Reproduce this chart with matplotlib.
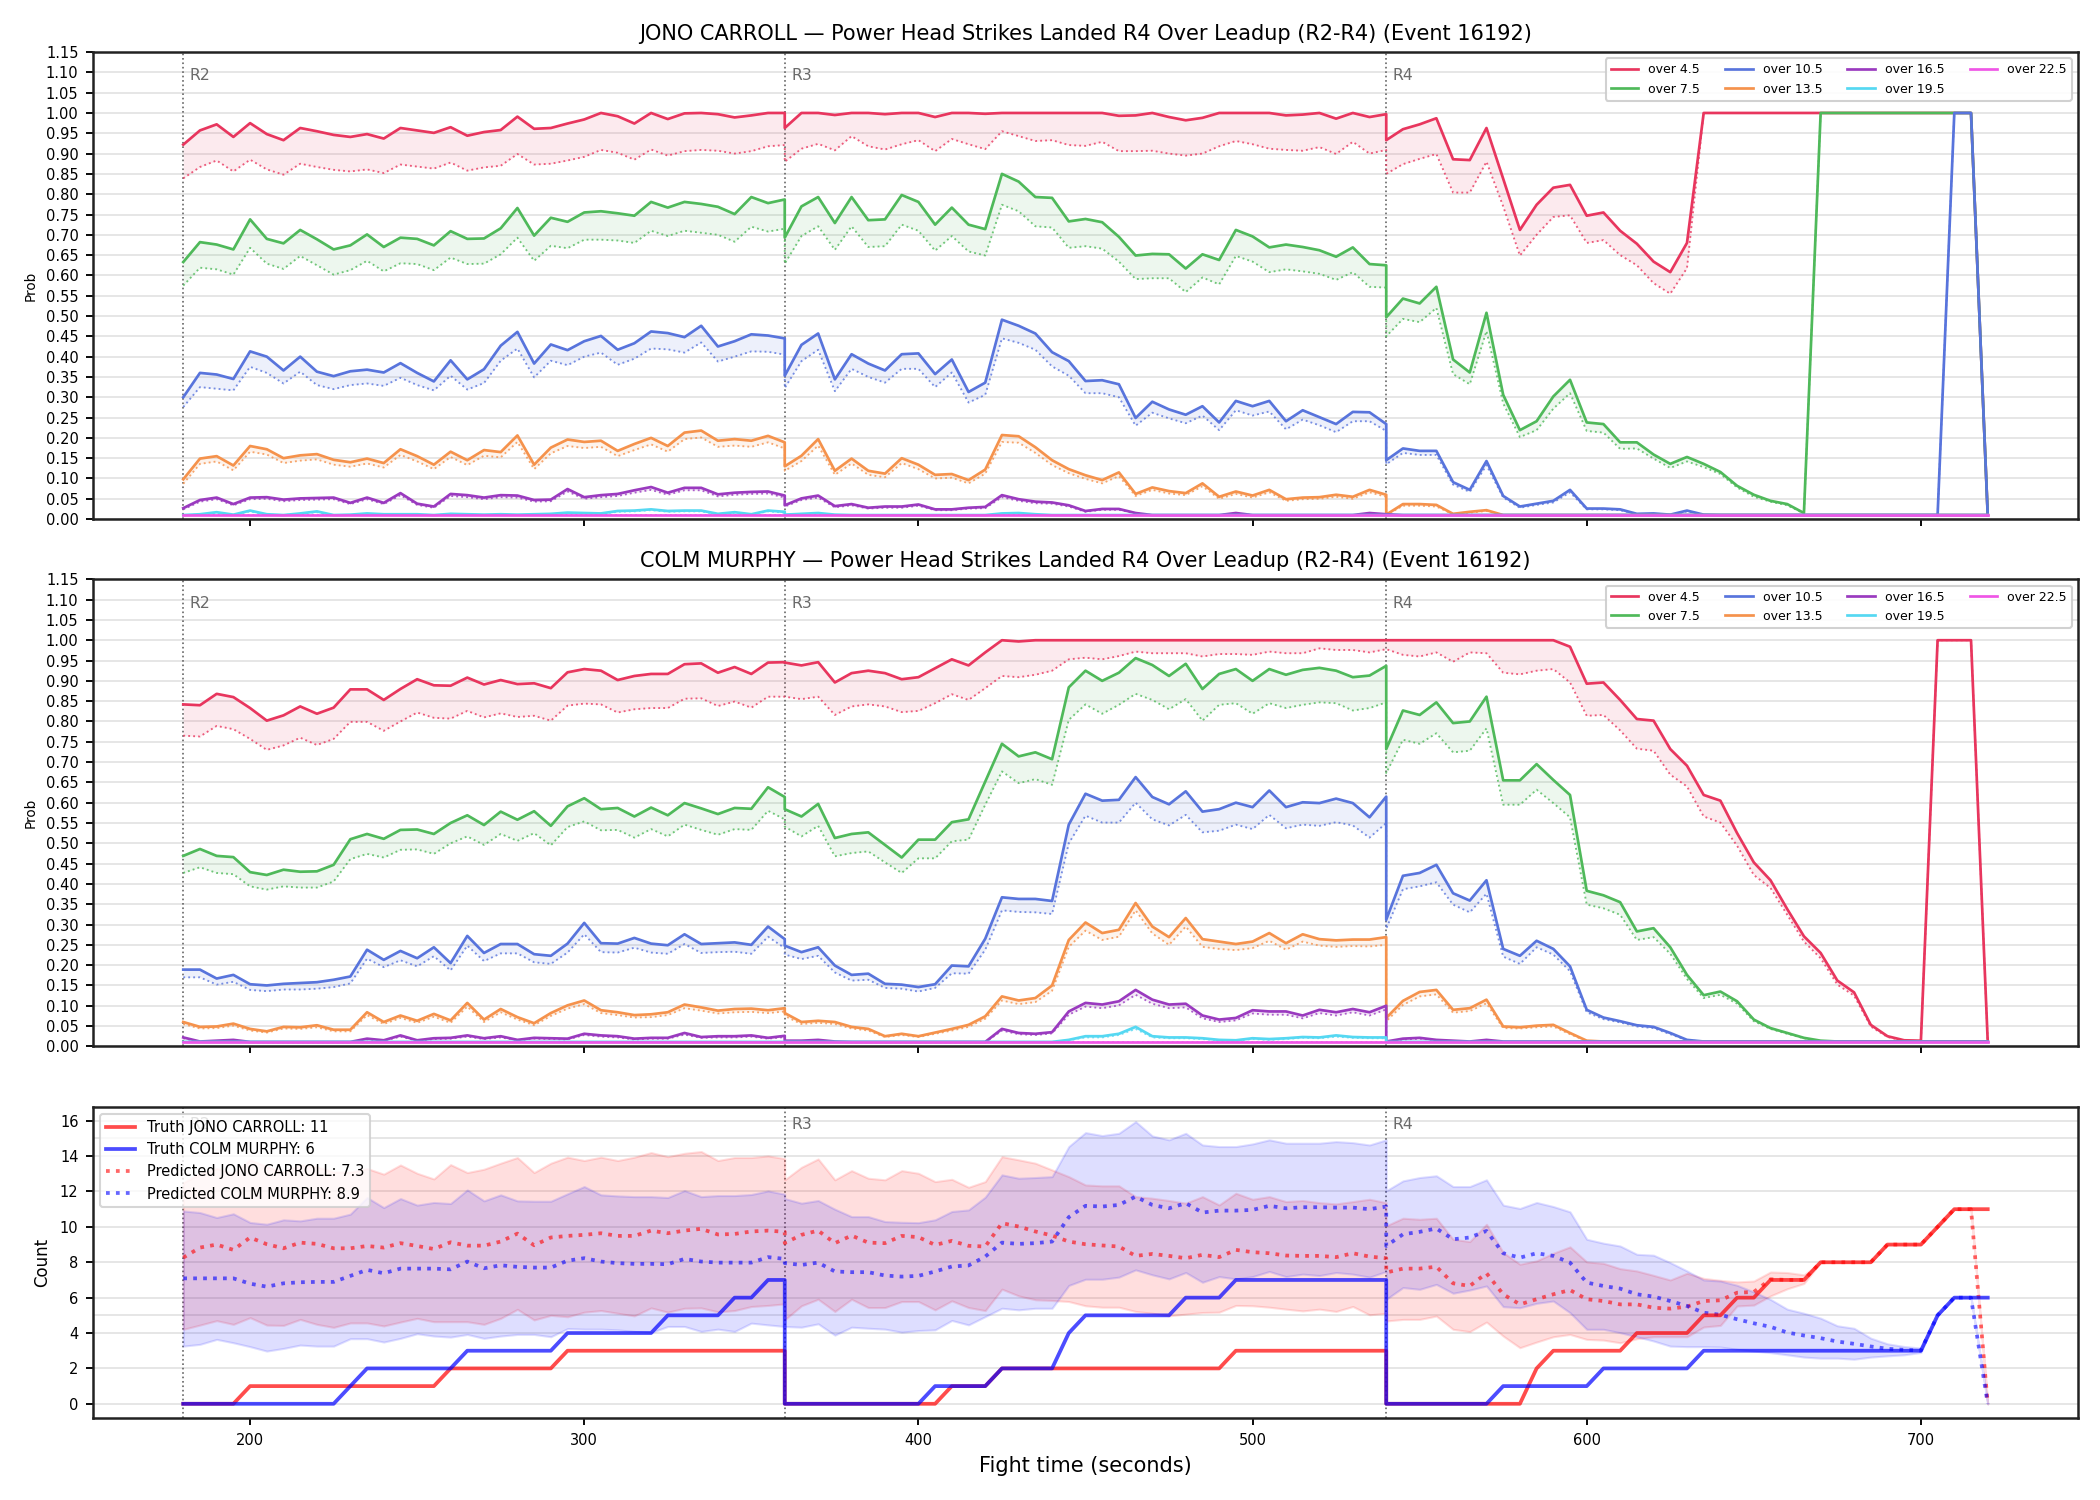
"""
plot.py

Leadup probability ladders for both fighters (R2-R4) plus the
predicted-vs-truth count panel for Power Head Strikes Landed R4.
"""

import matplotlib
matplotlib.use("Agg")
import matplotlib.pyplot as plt
import matplotlib.transforms as mtransforms
import numpy as np


# =============================================================================
# DATA
# =============================================================================

EVENT_ID = 16192
FIGHTER_A = "JONO CARROLL"
FIGHTER_B = "COLM MURPHY"
MARKET = "Power Head Strikes Landed R4 Over Leadup (R2-R4)"

# Sample times (s). Each round is sampled every 5 s, round boundaries repeat.
T = [*range(180, 361, 5), *range(360, 541, 5), *range(540, 721, 5)]

ROUND_STARTS = [180, 360, 540]
ROUND_NAMES = ["R2", "R3", "R4"]

THRESHOLDS = ["over 4.5", "over 7.5", "over 10.5", "over 13.5",
              "over 16.5", "over 19.5", "over 22.5"]

# ---- JONO CARROLL: market line (solid) ---------------------------------------
JC_45 = [
    0.922, 0.957, 0.972, 0.941, 0.975, 0.948, 0.933, 0.963, 0.955, 0.946,
    0.941, 0.948, 0.937, 0.963, 0.957, 0.951, 0.965, 0.944, 0.953, 0.958,
    0.991, 0.961, 0.963, 0.974, 0.984, 1.0, 0.992, 0.974, 1.0, 0.985,
    0.999, 1.0, 0.997, 0.989, 0.994, 1.0, 1.0,
    0.963, 1.0, 1.0, 0.995, 1.0, 1.0, 0.997, 1.0, 1.0, 0.99,
    1.0, 1.0, 0.998, 1.0, 1.0, 1.0, 1.0, 1.0, 1.0, 1.0,
    0.993, 0.994, 1.0, 0.99, 0.982, 0.988, 1.0, 1.0, 1.0, 1.0,
    0.994, 0.996, 1.0, 0.986, 1.0, 0.99, 0.997,
    0.933, 0.960, 0.972, 0.987, 0.886, 0.884, 0.963, 0.838, 0.712, 0.774,
    0.816, 0.823, 0.747, 0.755, 0.710, 0.678, 0.634, 0.608, 0.680,
    *[1.0] * 17, 0.01,
]
JC_75 = [
    0.633, 0.682, 0.676, 0.664, 0.738, 0.69, 0.679, 0.712, 0.689, 0.664,
    0.674, 0.701, 0.67, 0.693, 0.69, 0.674, 0.709, 0.69, 0.691, 0.716,
    0.766, 0.698, 0.742, 0.732, 0.755, 0.758, 0.753, 0.747, 0.781, 0.767,
    0.781, 0.776, 0.769, 0.751, 0.793, 0.778, 0.787,
    0.693, 0.77, 0.793, 0.729, 0.793, 0.736, 0.738, 0.798, 0.781, 0.725,
    0.767, 0.725, 0.714, 0.85, 0.831, 0.793, 0.791, 0.733, 0.739, 0.731,
    0.695, 0.649, 0.653, 0.652, 0.617, 0.652, 0.638, 0.712, 0.696, 0.669,
    0.676, 0.67, 0.662, 0.646, 0.669, 0.628, 0.625,
    0.497, 0.543, 0.531, 0.572, 0.393, 0.361, 0.508, 0.306, 0.219, 0.241,
    0.302, 0.343, 0.238, 0.234, 0.189, 0.189, 0.159, 0.136, 0.153, 0.136,
    0.116, 0.082, 0.06, 0.045, 0.037, 0.015,
    *[1.0] * 10, 0.01,
]
JC_105 = [
    0.30, 0.36, 0.356, 0.345, 0.413, 0.40, 0.366, 0.40, 0.363, 0.352,
    0.364, 0.368, 0.361, 0.384, 0.36, 0.339, 0.391, 0.344, 0.369, 0.427,
    0.461, 0.383, 0.43, 0.416, 0.438, 0.451, 0.417, 0.433, 0.462, 0.458,
    0.448, 0.476, 0.425, 0.438, 0.455, 0.452, 0.445,
    0.353, 0.429, 0.457, 0.344, 0.406, 0.383, 0.366, 0.406, 0.408, 0.357,
    0.393, 0.313, 0.336, 0.491, 0.476, 0.457, 0.411, 0.389, 0.34, 0.342,
    0.332, 0.249, 0.289, 0.27, 0.257, 0.278, 0.238, 0.291, 0.278, 0.291,
    0.241, 0.268, 0.251, 0.234, 0.264, 0.263, 0.234,
    0.145, 0.174, 0.168, 0.168, 0.091, 0.072, 0.143, 0.057, 0.031, 0.038,
    0.045, 0.072, 0.026, 0.026, 0.024, 0.013, 0.014, 0.011, 0.021, 0.011,
    *[0.01] * 14, 1.0, 1.0, 0.01,
]
JC_135 = [
    0.098, 0.149, 0.155, 0.132, 0.18, 0.172, 0.15, 0.157, 0.16, 0.146,
    0.14, 0.149, 0.138, 0.172, 0.155, 0.134, 0.166, 0.145, 0.17, 0.165,
    0.206, 0.134, 0.176, 0.196, 0.19, 0.193, 0.168, 0.185, 0.20, 0.18,
    0.213, 0.218, 0.193, 0.197, 0.193, 0.205, 0.189,
    0.13, 0.156, 0.197, 0.119, 0.149, 0.119, 0.112, 0.15, 0.134, 0.109,
    0.111, 0.096, 0.122, 0.207, 0.204, 0.177, 0.145, 0.123, 0.108, 0.096,
    0.115, 0.062, 0.078, 0.069, 0.064, 0.088, 0.055, 0.068, 0.058, 0.072,
    0.049, 0.053, 0.054, 0.06, 0.055, 0.072, 0.06,
    0.011, 0.037, 0.037, 0.035, 0.013, 0.018, 0.022, *[0.01] * 30,
]
JC_165 = [
    0.027, 0.047, 0.053, 0.037, 0.053, 0.054, 0.048, 0.051, 0.052, 0.053,
    0.04, 0.053, 0.04, 0.064, 0.038, 0.031, 0.062, 0.059, 0.053, 0.059,
    0.058, 0.047, 0.048, 0.074, 0.054, 0.059, 0.062, 0.071, 0.079, 0.065,
    0.077, 0.077, 0.061, 0.065, 0.067, 0.068, 0.058,
    0.034, 0.051, 0.058, 0.032, 0.037, 0.028, 0.031, 0.031, 0.036, 0.024,
    0.024, 0.028, 0.03, 0.059, 0.049, 0.043, 0.041, 0.034, 0.02, 0.025,
    0.025, 0.015, 0.01, 0.01, 0.01, 0.01, 0.01, 0.015, 0.01, 0.01,
    0.01, 0.01, 0.01, 0.01, 0.01, 0.015, 0.012,
    0.012, *[0.01] * 36,
]
JC_195 = [
    0.01, 0.012, 0.017, 0.011, 0.021, 0.012, 0.01, 0.014, 0.019, 0.01,
    0.011, 0.014, 0.012, 0.012, 0.012, 0.01, 0.013, 0.012, 0.011, 0.012,
    0.011, 0.012, 0.013, 0.016, 0.015, 0.014, 0.02, 0.021, 0.024, 0.02,
    0.021, 0.021, 0.013, 0.017, 0.012, 0.021, 0.018,
    0.011, 0.013, 0.015, 0.011, *[0.01] * 9, 0.014, 0.015, 0.012, *[0.01] * 21,
    *[0.01] * 37,
]
JC_225 = [0.01] * 111

# ---- JONO CARROLL: model line (dotted) ---------------------------------------
JC_45_M = [
    0.839, 0.867, 0.883, 0.856, 0.885, 0.861, 0.848, 0.875, 0.867, 0.860,
    0.856, 0.861, 0.852, 0.873, 0.868, 0.863, 0.878, 0.858, 0.866, 0.870,
    0.899, 0.873, 0.875, 0.883, 0.892, 0.909, 0.902, 0.885, 0.910, 0.895,
    0.906, 0.909, 0.907, 0.900, 0.906, 0.918, 0.921,
    0.88, 0.912, 0.924, 0.908, 0.943, 0.918, 0.91, 0.923, 0.933, 0.906,
    0.936, 0.923, 0.911, 0.955, 0.943, 0.931, 0.933, 0.921, 0.919, 0.929,
    0.906, 0.906, 0.907, 0.90, 0.895, 0.90, 0.918, 0.931, 0.923, 0.912,
    0.909, 0.907, 0.916, 0.899, 0.929, 0.90, 0.909,
    0.85, 0.874, 0.887, 0.899, 0.804, 0.804, 0.88, 0.77, 0.649, 0.70,
    0.744, 0.748, 0.68, 0.687, 0.65, 0.625, 0.581, 0.555, 0.618,
    *[1.0] * 17, 0.01,
]
JC_75_M = [
    0.575, 0.619, 0.615, 0.602, 0.668, 0.629, 0.616, 0.648, 0.625, 0.602,
    0.613, 0.636, 0.61, 0.63, 0.628, 0.613, 0.644, 0.628, 0.629, 0.652,
    0.693, 0.636, 0.673, 0.667, 0.688, 0.688, 0.686, 0.68, 0.71, 0.697,
    0.71, 0.705, 0.70, 0.683, 0.72, 0.708, 0.715,
    0.629, 0.697, 0.721, 0.663, 0.721, 0.67, 0.672, 0.725, 0.71, 0.661,
    0.697, 0.659, 0.649, 0.774, 0.758, 0.721, 0.718, 0.668, 0.672, 0.666,
    0.634, 0.591, 0.593, 0.593, 0.559, 0.595, 0.578, 0.648, 0.634, 0.608,
    0.615, 0.61, 0.604, 0.589, 0.608, 0.572, 0.57,
    0.45, 0.493, 0.485, 0.52, 0.357, 0.332, 0.463, 0.285, 0.202, 0.219,
    0.272, 0.31, 0.217, 0.213, 0.173, 0.174, 0.149, 0.126, 0.142, 0.128,
    0.111, 0.078, 0.055, 0.043, 0.034, 0.014,
    *[1.0] * 10, 0.01,
]
JC_105_M = [
    0.276, 0.325, 0.321, 0.317, 0.375, 0.36, 0.334, 0.363, 0.33, 0.32,
    0.33, 0.334, 0.328, 0.348, 0.33, 0.317, 0.353, 0.319, 0.335, 0.39,
    0.42, 0.349, 0.39, 0.379, 0.40, 0.41, 0.38, 0.395, 0.42, 0.418,
    0.41, 0.435, 0.388, 0.40, 0.413, 0.412, 0.405,
    0.323, 0.389, 0.417, 0.315, 0.37, 0.35, 0.336, 0.37, 0.37, 0.325,
    0.361, 0.287, 0.306, 0.445, 0.434, 0.417, 0.376, 0.353, 0.31, 0.31,
    0.30, 0.23, 0.262, 0.248, 0.236, 0.255, 0.219, 0.268, 0.255, 0.265,
    0.221, 0.245, 0.231, 0.214, 0.241, 0.241, 0.217,
    0.135, 0.163, 0.158, 0.158, 0.085, 0.067, 0.133, 0.053, 0.028, 0.035,
    0.041, 0.066, 0.024, 0.024, 0.022, 0.012, 0.013, 0.01, 0.019, 0.01,
    *[0.01] * 14, 1.0, 1.0, 0.01,
]
JC_135_M = [
    0.087, 0.136, 0.142, 0.12, 0.166, 0.159, 0.138, 0.144, 0.147, 0.134,
    0.129, 0.137, 0.127, 0.158, 0.142, 0.123, 0.153, 0.133, 0.156, 0.152,
    0.19, 0.123, 0.162, 0.18, 0.175, 0.178, 0.155, 0.17, 0.184, 0.166,
    0.197, 0.201, 0.178, 0.181, 0.178, 0.189, 0.174,
    0.119, 0.143, 0.181, 0.109, 0.137, 0.109, 0.103, 0.138, 0.123, 0.1,
    0.102, 0.088, 0.112, 0.19, 0.188, 0.163, 0.133, 0.113, 0.099, 0.088,
    0.106, 0.057, 0.072, 0.063, 0.059, 0.081, 0.05, 0.062, 0.053, 0.066,
    0.045, 0.049, 0.05, 0.055, 0.05, 0.066, 0.055,
    0.01, 0.033, 0.033, 0.031, 0.012, 0.016, 0.02, *[0.01] * 30,
]
JC_165_M = [
    0.024, 0.043, 0.049, 0.034, 0.049, 0.05, 0.044, 0.047, 0.048, 0.049,
    0.037, 0.049, 0.037, 0.059, 0.035, 0.028, 0.057, 0.054, 0.049, 0.054,
    0.053, 0.043, 0.044, 0.068, 0.05, 0.054, 0.057, 0.065, 0.072, 0.06,
    0.071, 0.071, 0.056, 0.06, 0.062, 0.063, 0.053,
    0.031, 0.047, 0.053, 0.029, 0.034, 0.026, 0.028, 0.028, 0.033, 0.022,
    0.022, 0.026, 0.027, 0.054, 0.045, 0.039, 0.038, 0.031, 0.018, 0.023,
    0.023, 0.014, 0.01, 0.01, 0.01, 0.01, 0.01, 0.014, 0.01, 0.01,
    0.01, 0.01, 0.01, 0.01, 0.01, 0.014, 0.011,
    0.011, *[0.01] * 36,
]
JC_195_M = [
    0.01, 0.011, 0.015, 0.01, 0.019, 0.011, 0.01, 0.013, 0.017, 0.01,
    0.01, 0.013, 0.011, 0.011, 0.011, 0.01, 0.012, 0.011, 0.01, 0.011,
    0.01, 0.011, 0.012, 0.015, 0.014, 0.013, 0.018, 0.019, 0.022, 0.018,
    0.019, 0.019, 0.012, 0.015, 0.011, 0.019, 0.016,
    *[0.01] * 37,
    *[0.01] * 37,
]
JC_225_M = [0.01] * 111

# ---- COLM MURPHY: market line (solid) ----------------------------------------
CM_45 = [
    0.842, 0.84, 0.868, 0.86, 0.833, 0.802, 0.815, 0.837, 0.819, 0.834,
    0.879, 0.879, 0.853, 0.88, 0.904, 0.889, 0.888, 0.908, 0.891, 0.902,
    0.892, 0.894, 0.882, 0.921, 0.929, 0.925, 0.902, 0.912, 0.917, 0.917,
    0.941, 0.943, 0.92, 0.934, 0.917, 0.945, 0.946,
    0.945, 0.938, 0.946, 0.896, 0.919, 0.925, 0.919, 0.904, 0.909, 0.931,
    0.953, 0.938, 0.97, 1.0, 0.997, *[1.0] * 22,
    *[1.0] * 11, 0.984, 0.893, 0.896, 0.853, 0.806, 0.802, 0.732, 0.691,
    0.619, 0.605, 0.525, 0.453, 0.409, 0.338, 0.271, 0.23, 0.162, 0.133,
    0.053, 0.025, 0.015, 0.014, 1.0, 1.0, 1.0, 0.012,
]
CM_75 = [
    0.469, 0.486, 0.469, 0.466, 0.429, 0.422, 0.435, 0.43, 0.431, 0.447,
    0.51, 0.523, 0.511, 0.533, 0.534, 0.523, 0.55, 0.569, 0.545, 0.578,
    0.558, 0.579, 0.543, 0.591, 0.611, 0.584, 0.587, 0.566, 0.588, 0.569,
    0.599, 0.586, 0.572, 0.587, 0.585, 0.638, 0.614,
    0.584, 0.566, 0.597, 0.513, 0.523, 0.527, 0.496, 0.465, 0.509, 0.509,
    0.552, 0.559, 0.652, 0.745, 0.714, 0.724, 0.707, 0.884, 0.925, 0.90,
    0.92, 0.956, 0.939, 0.912, 0.942, 0.88, 0.917, 0.929, 0.90, 0.929,
    0.915, 0.927, 0.932, 0.925, 0.909, 0.913, 0.937,
    0.732, 0.827, 0.816, 0.847, 0.796, 0.80, 0.861, 0.655, 0.655, 0.695,
    0.656, 0.619, 0.383, 0.372, 0.355, 0.283, 0.291, 0.244, 0.176, 0.126,
    0.135, 0.111, 0.066, 0.045, 0.033, 0.021, 0.014, *[0.012] * 10,
]
CM_105 = [
    0.189, 0.189, 0.167, 0.176, 0.153, 0.15, 0.154, 0.156, 0.158, 0.164,
    0.172, 0.238, 0.213, 0.235, 0.217, 0.244, 0.205, 0.272, 0.23, 0.252,
    0.252, 0.227, 0.223, 0.253, 0.304, 0.254, 0.253, 0.267, 0.253, 0.249,
    0.276, 0.252, 0.254, 0.256, 0.25, 0.295, 0.264,
    0.248, 0.232, 0.244, 0.199, 0.176, 0.179, 0.154, 0.152, 0.146, 0.153,
    0.199, 0.197, 0.265, 0.367, 0.363, 0.363, 0.358, 0.546, 0.622, 0.605,
    0.607, 0.663, 0.614, 0.596, 0.628, 0.578, 0.584, 0.60, 0.589, 0.63,
    0.589, 0.601, 0.599, 0.61, 0.599, 0.564, 0.615,
    0.312, 0.42, 0.427, 0.447, 0.377, 0.359, 0.409, 0.24, 0.223, 0.26,
    0.24, 0.197, 0.09, 0.071, 0.062, 0.052, 0.048, 0.033, 0.016,
    *[0.012] * 18,
]
CM_135 = [
    0.06, 0.048, 0.049, 0.056, 0.043, 0.037, 0.048, 0.047, 0.052, 0.041,
    0.041, 0.084, 0.06, 0.076, 0.063, 0.08, 0.064, 0.107, 0.066, 0.092,
    0.072, 0.057, 0.082, 0.101, 0.113, 0.089, 0.084, 0.077, 0.079, 0.084,
    0.103, 0.096, 0.088, 0.092, 0.093, 0.089, 0.094,
    0.082, 0.06, 0.063, 0.06, 0.048, 0.043, 0.025, 0.031, 0.025, 0.034,
    0.043, 0.053, 0.074, 0.123, 0.113, 0.119, 0.15, 0.262, 0.305, 0.279,
    0.287, 0.353, 0.295, 0.269, 0.316, 0.264, 0.258, 0.252, 0.258, 0.279,
    0.254, 0.276, 0.264, 0.261, 0.263, 0.263, 0.269,
    0.07, 0.112, 0.134, 0.139, 0.09, 0.094, 0.115, 0.049, 0.047, 0.051,
    0.053, 0.033, 0.014, *[0.012] * 24,
]
CM_165 = [
    0.022, 0.012, 0.014, 0.016, 0.011, 0.011, 0.011, 0.011, 0.011, 0.011,
    0.011, 0.019, 0.015, 0.027, 0.015, 0.02, 0.021, 0.027, 0.02, 0.025,
    0.016, 0.021, 0.02, 0.019, 0.031, 0.027, 0.025, 0.019, 0.021, 0.021,
    0.033, 0.023, 0.025, 0.025, 0.027, 0.021, 0.026,
    0.014, 0.014, 0.016, 0.012, 0.011, 0.011, 0.011, 0.011, 0.011, 0.011,
    0.011, 0.011, 0.011, 0.043, 0.033, 0.031, 0.035, 0.086, 0.107, 0.103,
    0.111, 0.139, 0.115, 0.103, 0.105, 0.076, 0.066, 0.07, 0.089, 0.086,
    0.086, 0.076, 0.09, 0.084, 0.092, 0.084, 0.10,
    0.012, 0.019, 0.021, 0.016, 0.014, 0.012, 0.016, *[0.012] * 30,
]
CM_195 = [
    *[0.011] * 37,
    *[0.011] * 17, 0.016, 0.025, 0.025, 0.031, 0.048, 0.025, 0.022, 0.022,
    0.02, 0.016, 0.015, 0.02, 0.018, 0.02, 0.023, 0.022, 0.027, 0.023,
    0.022, 0.022,
    *[0.011] * 37,
]
CM_225 = [0.011] * 111

# ---- COLM MURPHY: model line (dotted) ----------------------------------------
CM_45_M = [
    0.765, 0.763, 0.789, 0.781, 0.757, 0.73, 0.741, 0.76, 0.742, 0.757,
    0.799, 0.799, 0.777, 0.80, 0.822, 0.809, 0.807, 0.826, 0.81, 0.82,
    0.811, 0.814, 0.802, 0.839, 0.844, 0.842, 0.822, 0.83, 0.833, 0.833,
    0.856, 0.857, 0.838, 0.849, 0.834, 0.861, 0.861,
    0.861, 0.855, 0.861, 0.816, 0.837, 0.842, 0.837, 0.823, 0.826, 0.845,
    0.867, 0.853, 0.882, 0.912, 0.909, 0.915, 0.925, 0.953, 0.957, 0.953,
    0.961, 0.972, 0.968, 0.968, 0.968, 0.96, 0.966, 0.966, 0.964, 0.972,
    0.968, 0.968, 0.98, 0.976, 0.976, 0.97, 0.978,
    0.978, 0.964, 0.96, 0.97, 0.947, 0.97, 0.968, 0.92, 0.916, 0.925,
    0.929, 0.896, 0.814, 0.816, 0.778, 0.733, 0.728, 0.669, 0.64, 0.566,
    0.551, 0.494, 0.422, 0.39, 0.324, 0.258, 0.217, 0.152, 0.125, 0.049,
    0.023, 0.014, 0.013, 1.0, 1.0, 1.0, 0.012,
]
CM_75_M = [
    0.427, 0.441, 0.427, 0.424, 0.394, 0.386, 0.394, 0.391, 0.391, 0.406,
    0.461, 0.474, 0.465, 0.484, 0.485, 0.474, 0.50, 0.517, 0.496, 0.523,
    0.506, 0.525, 0.495, 0.54, 0.554, 0.532, 0.533, 0.514, 0.535, 0.517,
    0.546, 0.533, 0.521, 0.535, 0.533, 0.58, 0.559,
    0.541, 0.517, 0.543, 0.468, 0.476, 0.48, 0.453, 0.427, 0.463, 0.463,
    0.505, 0.509, 0.595, 0.677, 0.648, 0.658, 0.644, 0.804, 0.842, 0.819,
    0.841, 0.868, 0.853, 0.83, 0.855, 0.802, 0.841, 0.845, 0.819, 0.845,
    0.833, 0.841, 0.847, 0.845, 0.827, 0.833, 0.847,
    0.673, 0.755, 0.745, 0.771, 0.724, 0.728, 0.783, 0.595, 0.595, 0.632,
    0.599, 0.564, 0.349, 0.34, 0.324, 0.262, 0.269, 0.228, 0.166, 0.119,
    0.127, 0.105, 0.062, 0.043, 0.031, 0.02, 0.013, *[0.012] * 10,
]
CM_105_M = [
    0.17, 0.17, 0.152, 0.159, 0.139, 0.136, 0.14, 0.14, 0.142, 0.146,
    0.155, 0.216, 0.195, 0.212, 0.197, 0.222, 0.187, 0.248, 0.21, 0.229,
    0.229, 0.207, 0.203, 0.231, 0.276, 0.232, 0.231, 0.243, 0.231, 0.228,
    0.252, 0.23, 0.232, 0.233, 0.228, 0.27, 0.242,
    0.226, 0.215, 0.223, 0.182, 0.162, 0.164, 0.144, 0.142, 0.135, 0.144,
    0.18, 0.179, 0.238, 0.335, 0.331, 0.33, 0.326, 0.50, 0.568, 0.551,
    0.551, 0.60, 0.559, 0.544, 0.57, 0.527, 0.531, 0.546, 0.535, 0.57,
    0.537, 0.546, 0.543, 0.552, 0.544, 0.514, 0.55,
    0.29, 0.387, 0.394, 0.404, 0.349, 0.33, 0.376, 0.221, 0.203, 0.244,
    0.226, 0.185, 0.084, 0.067, 0.059, 0.049, 0.045, 0.03, 0.015,
    *[0.012] * 18,
]
CM_135_M = [
    0.055, 0.044, 0.045, 0.051, 0.039, 0.034, 0.044, 0.043, 0.047, 0.037,
    0.037, 0.077, 0.055, 0.07, 0.058, 0.073, 0.058, 0.098, 0.06, 0.084,
    0.066, 0.052, 0.075, 0.093, 0.104, 0.082, 0.077, 0.071, 0.072, 0.077,
    0.094, 0.088, 0.081, 0.084, 0.085, 0.082, 0.086,
    0.075, 0.055, 0.058, 0.055, 0.044, 0.039, 0.023, 0.028, 0.023, 0.031,
    0.039, 0.048, 0.068, 0.113, 0.104, 0.109, 0.137, 0.245, 0.285, 0.262,
    0.27, 0.335, 0.278, 0.25, 0.295, 0.245, 0.24, 0.237, 0.242, 0.26,
    0.238, 0.258, 0.248, 0.245, 0.247, 0.246, 0.25,
    0.062, 0.102, 0.123, 0.128, 0.083, 0.087, 0.106, 0.045, 0.044, 0.047,
    0.049, 0.03, 0.013, *[0.012] * 24,
]
CM_165_M = [
    0.02, 0.011, 0.013, 0.014, 0.01, 0.01, 0.01, 0.01, 0.01, 0.01,
    0.01, 0.017, 0.014, 0.024, 0.014, 0.018, 0.019, 0.024, 0.018, 0.022,
    0.015, 0.019, 0.018, 0.017, 0.028, 0.024, 0.022, 0.017, 0.019, 0.019,
    0.029, 0.021, 0.022, 0.022, 0.024, 0.019, 0.023,
    0.013, 0.013, 0.014, 0.011, *[0.01] * 9, 0.039, 0.03, 0.028, 0.032,
    0.078, 0.098, 0.094, 0.101, 0.127, 0.105, 0.094, 0.096, 0.069, 0.06,
    0.064, 0.081, 0.078, 0.078, 0.069, 0.082, 0.076, 0.084, 0.076, 0.091,
    0.011, 0.017, 0.019, 0.015, 0.013, 0.011, 0.015, *[0.011] * 30,
]
CM_195_M = [
    *[0.011] * 37,
    *[0.011] * 17, 0.015, 0.022, 0.022, 0.028, 0.043, 0.022, 0.02, 0.02,
    0.018, 0.015, 0.014, 0.018, 0.016, 0.018, 0.021, 0.02, 0.024, 0.021,
    0.02, 0.02,
    *[0.011] * 37,
]
CM_225_M = [0.011] * 111

# ---- Count panel -------------------------------------------------------------
JC_TRUTH = [
    *[0] * 4, *[1] * 12, *[2] * 7, *[3] * 14,
    *[0] * 10, *[1] * 3, *[2] * 14, *[3] * 10,
    *[0] * 9, 2, *[3] * 5, *[4] * 4, 5, 5, 6, 6, *[7] * 3, *[8] * 4,
    *[9] * 3, 10, *[11] * 3,
]
CM_TRUTH = [
    *[0] * 10, 1, *[2] * 6, *[3] * 6, *[4] * 6, *[5] * 4, 6, 6, 7, 7,
    *[0] * 9, *[1] * 4, *[2] * 4, 4, *[5] * 6, *[6] * 3, *[7] * 10,
    *[0] * 7, *[1] * 6, *[2] * 6, *[3] * 14, 5, 6, 6, 6,
]
JC_PRED = [
    8.26, 8.83, 9.0, 8.7, 9.4, 9.02, 8.79, 9.11, 9.04, 8.79,
    8.79, 8.92, 8.83, 9.08, 8.92, 8.75, 9.13, 8.94, 8.94, 9.17,
    9.62, 8.96, 9.4, 9.49, 9.55, 9.64, 9.49, 9.49, 9.79, 9.64,
    9.79, 9.89, 9.57, 9.6, 9.74, 9.79, 9.72,
    9.08, 9.55, 9.79, 9.08, 9.51, 9.11, 9.08, 9.49, 9.42, 8.98,
    9.21, 8.93, 8.89, 10.21, 10.02, 9.74, 9.51, 9.17, 9.02, 8.95,
    8.89, 8.36, 8.47, 8.36, 8.23, 8.42, 8.29, 8.7, 8.57, 8.51,
    8.38, 8.36, 8.36, 8.29, 8.51, 8.32, 8.23,
    7.42, 7.64, 7.64, 7.75, 6.81, 6.66, 7.38, 6.19, 5.62, 5.91,
    6.19, 6.43, 5.91, 5.81, 5.62, 5.62, 5.43, 5.38, 5.49, 5.81,
    5.85, 6.28, 6.32, 7.04, 7.0, 7.0, 8.0, 8.0, 8.0, 8.0,
    9.0, 9.0, 9.0, 10.0, 11.0, 11.0, 0.0,
]
CM_PRED = [
    7.09, 7.09, 7.09, 7.09, 6.79, 6.62, 6.81, 6.87, 6.89, 6.89,
    7.23, 7.57, 7.38, 7.64, 7.64, 7.64, 7.6, 8.04, 7.66, 7.83,
    7.74, 7.7, 7.7, 8.09, 8.23, 8.04, 7.95, 7.91, 7.91, 7.89,
    8.19, 8.04, 7.98, 7.98, 7.98, 8.29, 8.19,
    7.95, 7.85, 7.98, 7.48, 7.44, 7.44, 7.25, 7.19, 7.23, 7.48,
    7.76, 7.82, 8.32, 9.11, 9.04, 9.08, 9.17, 10.55, 11.19, 11.15,
    11.24, 11.71, 11.24, 11.05, 11.34, 10.81, 10.92, 10.92, 10.96, 11.19,
    11.05, 11.11, 11.11, 11.09, 11.09, 11.0, 11.15,
    8.92, 9.58, 9.72, 9.91, 9.3, 9.4, 9.77, 8.51, 8.26, 8.51,
    8.36, 7.98, 6.85, 6.66, 6.51, 6.19, 6.06, 5.81, 5.53, 5.15,
    5.03, 4.78, 4.55, 4.35, 4.03, 3.86, 3.71, 3.52, 3.39, 3.24,
    3.11, 3.05, 3.01, 5.0, 6.0, 6.0, 0.0,
]
JC_HI = [
    12.5, 13.0, 13.3, 13.0, 13.8, 13.4, 13.1, 13.5, 13.4, 13.1,
    13.1, 13.3, 12.98, 13.5, 13.03, 12.71, 13.52, 13.07, 13.26, 13.6,
    13.92, 13.07, 13.6, 13.94, 13.75, 13.94, 13.75, 13.94, 14.2, 13.97,
    14.16, 14.26, 13.75, 13.92, 13.92, 14.01, 13.86,
    12.66, 13.37, 13.84, 12.66, 13.18, 12.75, 12.66, 13.18, 13.03, 12.56,
    12.69, 12.24, 12.56, 13.97, 13.79, 13.6, 13.22, 12.84, 12.37, 12.32,
    12.32, 11.71, 11.62, 11.49, 11.34, 11.71, 11.24, 11.9, 11.56, 11.71,
    11.43, 11.49, 11.37, 11.3, 11.43, 11.56, 11.37,
    10.06, 10.49, 10.43, 10.49, 9.3, 9.17, 10.15, 8.55, 7.89, 8.08,
    8.51, 8.87, 8.02, 7.94, 7.64, 7.51, 7.26, 7.0, 7.38, 7.09,
    6.98, 6.89, 6.94, 7.45, 7.42, 7.29, 8.0, 8.0, 8.0, 8.0,
    9.0, 9.0, 9.0, 10.0, 11.0, 11.0, 0.0,
]
JC_LO = [
    4.21, 4.45, 4.7, 4.49, 4.87, 4.45, 4.43, 4.77, 4.49, 4.32,
    4.57, 4.57, 4.4, 4.62, 4.83, 4.64, 4.64, 4.64, 4.49, 4.83,
    5.34, 4.74, 5.0, 4.92, 5.18, 5.27, 5.12, 4.97, 5.42, 5.18,
    5.4, 5.42, 5.2, 5.27, 5.5, 5.56, 5.65,
    4.75, 5.54, 5.91, 5.22, 5.91, 5.44, 5.44, 5.78, 5.78, 5.31,
    5.82, 5.44, 5.27, 6.48, 6.1, 5.88, 5.84, 5.78, 5.54, 5.46,
    5.46, 5.22, 5.12, 4.97, 5.07, 5.16, 5.18, 5.56, 5.54, 5.46,
    5.35, 5.25, 5.35, 5.22, 5.5, 5.03, 5.12,
    4.68, 4.77, 4.77, 4.96, 4.21, 4.08, 4.62, 3.83, 3.17, 3.49,
    3.79, 3.92, 3.64, 3.6, 3.45, 3.68, 3.79, 3.79, 3.79, 4.34,
    4.43, 5.53, 5.58, 6.1, 6.5, 6.8, 8.0, 8.0, 8.0, 8.0,
    9.0, 9.0, 9.0, 10.0, 11.0, 11.0, 0.0,
]
CM_HI = [
    10.9, 10.81, 10.53, 10.74, 10.25, 10.15, 10.4, 10.34, 10.49, 10.49,
    10.72, 11.66, 11.09, 11.6, 11.23, 11.38, 11.32, 12.09, 11.47, 11.81,
    11.47, 11.45, 11.45, 11.87, 12.28, 11.81, 11.75, 11.71, 11.71, 11.66,
    12.05, 11.71, 11.77, 11.77, 11.83, 12.03, 11.85,
    11.6, 11.34, 11.49, 11.0, 10.58, 10.58, 10.3, 10.26, 10.24, 10.4,
    10.87, 10.96, 11.68, 12.94, 12.75, 12.79, 12.84, 14.54, 15.33, 15.16,
    15.29, 15.95, 15.14, 14.92, 15.29, 14.63, 14.54, 14.54, 14.69, 14.92,
    14.73, 14.73, 14.73, 14.82, 14.76, 14.63, 14.92,
    12.04, 12.6, 12.79, 12.89, 12.28, 12.28, 12.66, 11.23, 11.04, 11.38,
    11.15, 10.85, 9.3, 9.08, 8.92, 8.45, 8.4, 7.98, 7.51, 7.0,
    6.94, 6.7, 6.32, 5.9, 5.35, 5.12, 4.84, 4.41, 4.27, 3.71,
    3.39, 3.24, 3.15, 5.0, 6.0, 6.0, 0.0,
]
CM_LO = [
    3.26, 3.36, 3.64, 3.45, 3.23, 2.98, 3.13, 3.32, 3.26, 3.26,
    3.68, 3.68, 3.49, 3.7, 3.96, 3.83, 3.77, 3.92, 3.7, 3.83,
    3.92, 3.92, 3.79, 4.25, 4.22, 4.22, 4.18, 4.09, 4.03, 4.37,
    4.37, 4.09, 4.22, 4.09, 4.56, 4.46, 4.37,
    4.37, 4.33, 4.52, 3.88, 4.33, 4.27, 4.22, 4.05, 4.14, 4.18,
    4.71, 4.46, 4.93, 5.4, 5.31, 5.4, 5.4, 6.69, 7.04, 7.04,
    7.16, 7.57, 7.29, 7.06, 7.42, 6.87, 7.19, 7.06, 7.19, 7.48,
    7.19, 7.33, 7.25, 7.42, 7.33, 7.16, 7.48,
    5.91, 6.57, 6.47, 6.75, 6.25, 6.43, 6.66, 5.49, 5.43, 5.68,
    5.81, 5.15, 4.21, 4.21, 4.02, 3.79, 3.55, 3.26, 3.23, 3.23,
    3.21, 3.08, 2.98, 2.89, 2.77, 2.64, 2.58, 2.58, 2.52, 2.64,
    2.71, 2.77, 2.9, 5.0, 6.0, 6.0, 0.0,
]

# Pre-fight predicted totals shown in the legend.
JC_PRED_TOTAL = 7.3
CM_PRED_TOTAL = 8.9


# =============================================================================
# STYLE
# =============================================================================

LINE_COLORS = ["#e8365e", "#4fb95a", "#5874dc", "#f5924c",
               "#9a3abf", "#55d8f2", "#ef55e6"]
ROUND_LINE_COLOR = "#555555"
ROUND_TEXT_COLOR = "#6a6a6a"
GRID_COLOR = "#e2e2e2"

plt.rcParams["font.family"] = ["DejaVu Sans"]


# =============================================================================
# HELPERS
# =============================================================================

def style_axes(ax):
    for spine in ax.spines.values():
        spine.set_linewidth(1.2)
        spine.set_color("#222222")
    ax.tick_params(labelsize=7, width=0.9, length=3.5)
    ax.grid(axis="y", color=GRID_COLOR, linewidth=0.8, zorder=0)
    ax.set_axisbelow(True)


def draw_rounds(ax):
    """Dotted round boundaries with small R-labels near the top."""
    trans = mtransforms.blended_transform_factory(ax.transData, ax.transAxes)
    for start, name in zip(ROUND_STARTS, ROUND_NAMES):
        ax.axvline(start, color=ROUND_LINE_COLOR, linestyle=":",
                   linewidth=0.8, alpha=0.9, zorder=1)
        ax.text(start + 2, 0.965, name, transform=trans, ha="left", va="top",
                fontsize=7.5, color=ROUND_TEXT_COLOR, zorder=2)


def draw_prob_panel(ax, fighter, market_lines, model_lines):
    for label, color, mkt, mdl in zip(THRESHOLDS, LINE_COLORS,
                                      market_lines, model_lines):
        ax.fill_between(T, mdl, mkt, color=color, alpha=0.1, linewidth=0,
                        zorder=2)
        ax.plot(T, mdl, color=color, linestyle=":", linewidth=0.9,
                alpha=0.8, zorder=3)
        ax.plot(T, mkt, color=color, linewidth=1.3, label=label, zorder=4)

    ax.set_ylim(0, 1.15)
    ax.set_yticks(np.round(np.arange(0, 1.151, 0.05), 2))
    ax.yaxis.set_major_formatter(plt.FormatStrFormatter("%.2f"))
    ax.set_ylabel("Prob", fontsize=6.5)
    ax.set_title(f"{fighter} \u2014 {MARKET} (Event {EVENT_ID})",
                 fontsize=10, pad=6)
    draw_rounds(ax)
    ax.legend(loc="upper right", ncol=4, fontsize=6, framealpha=0.9,
              handlelength=2.2, columnspacing=2.0)


# =============================================================================
# FIGURE
# =============================================================================

fig = plt.figure(figsize=(14, 10), dpi=150)
gs = fig.add_gridspec(3, 1, height_ratios=[1.5, 1.5, 1.0],
                      left=0.0443, right=0.9895, top=0.9653, bottom=0.0547,
                      hspace=0.145)
ax_a = fig.add_subplot(gs[0])
ax_b = fig.add_subplot(gs[1], sharex=ax_a)
ax_c = fig.add_subplot(gs[2], sharex=ax_a)

for ax in (ax_a, ax_b, ax_c):
    style_axes(ax)

draw_prob_panel(ax_a, FIGHTER_A,
                [JC_45, JC_75, JC_105, JC_135, JC_165, JC_195, JC_225],
                [JC_45_M, JC_75_M, JC_105_M, JC_135_M, JC_165_M, JC_195_M,
                 JC_225_M])
draw_prob_panel(ax_b, FIGHTER_B,
                [CM_45, CM_75, CM_105, CM_135, CM_165, CM_195, CM_225],
                [CM_45_M, CM_75_M, CM_105_M, CM_135_M, CM_165_M, CM_195_M,
                 CM_225_M])

# ---- count panel ----
ax_c.fill_between(T, JC_LO, JC_HI, color="red", alpha=0.13, linewidth=1.0,
                  zorder=2)
ax_c.fill_between(T, CM_LO, CM_HI, color="blue", alpha=0.13, linewidth=1.0,
                  zorder=2)
ax_c.plot(T, JC_TRUTH, color="red", linewidth=1.8, alpha=0.7, zorder=4,
          label=f"Truth {FIGHTER_A}: {JC_TRUTH[-1]}")
ax_c.plot(T, CM_TRUTH, color="blue", linewidth=1.8, alpha=0.7, zorder=4,
          label=f"Truth {FIGHTER_B}: {CM_TRUTH[-1]}")
ax_c.plot(T, JC_PRED, color="red", linestyle=":", linewidth=1.8, alpha=0.6,
          zorder=3, label=f"Predicted {FIGHTER_A}: {JC_PRED_TOTAL}")
ax_c.plot(T, CM_PRED, color="blue", linestyle=":", linewidth=1.8, alpha=0.6,
          zorder=3, label=f"Predicted {FIGHTER_B}: {CM_PRED_TOTAL}")
for extra in (5, 15):
    ax_c.axhline(extra, color=GRID_COLOR, linewidth=0.8, zorder=0)
draw_rounds(ax_c)
ax_c.set_ylim(-0.8, 16.8)
ax_c.set_yticks(range(0, 17, 2))
ax_c.set_ylabel("Count", fontsize=8)
ax_c.set_xlabel("Fight time (seconds)", fontsize=10)
ax_c.legend(loc="upper left", fontsize=7, framealpha=0.8)

ax_a.set_xlim(153, 747)
ax_a.set_xticks(range(200, 701, 100))
plt.setp(ax_a.get_xticklabels(), visible=False)
plt.setp(ax_b.get_xticklabels(), visible=False)

fig.savefig("out.png", dpi=150)
